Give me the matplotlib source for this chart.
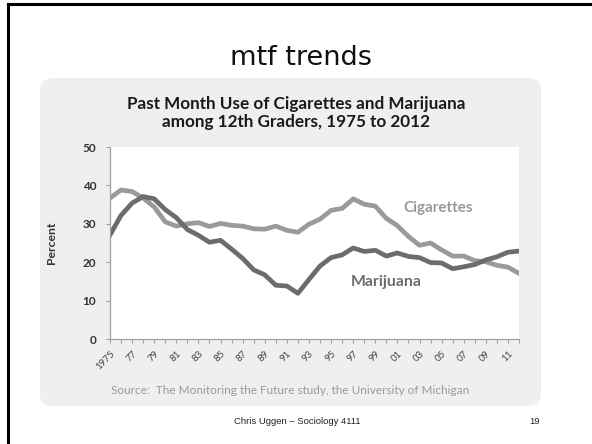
import matplotlib
matplotlib.use("Agg")
import matplotlib.pyplot as plt
from matplotlib.patches import FancyBboxPatch
from matplotlib.lines import Line2D
from matplotlib.ticker import MultipleLocator

# MTF 12th graders, past-month use (%), 1975-2012
years = list(range(1975, 2013))
cigarettes = [36.7, 38.8, 38.4, 36.7, 34.4, 30.5, 29.4, 30.0, 30.3, 29.3,
              30.1, 29.6, 29.4, 28.7, 28.6, 29.4, 28.3, 27.8, 29.9, 31.2,
              33.5, 34.0, 36.5, 35.1, 34.6, 31.4, 29.5, 26.7, 24.4, 25.0,
              23.2, 21.6, 21.6, 20.4, 20.1, 19.2, 18.7, 17.1]
marijuana = [27.1, 32.2, 35.4, 37.1, 36.5, 33.7, 31.6, 28.5, 27.0, 25.2,
             25.7, 23.4, 21.0, 18.0, 16.7, 14.0, 13.8, 11.9, 15.5, 19.0,
             21.2, 21.9, 23.7, 22.8, 23.1, 21.6, 22.4, 21.5, 21.2, 19.9,
             19.8, 18.3, 18.8, 19.4, 20.6, 21.4, 22.6, 22.9]
tick_years = list(range(1975, 2012, 2))
tick_labels = ["1975"] + [f"{y % 100:02d}" for y in tick_years[1:]]
y_ticks = [0, 10, 20, 30, 40, 50]

CIG, MJ = "#9a9a9a", "#6c6c6c"
W, H = 592, 444
fig = plt.figure(figsize=(W / 100, H / 100), dpi=100)
fig.patch.set_facecolor("white")

# slide frame (top and left edges only visible)
fig.add_artist(Line2D([8 / W, 1], [1 - 4.5 / H] * 2, color="black", lw=2.2))
fig.add_artist(Line2D([8 / W] * 2, [0, 1 - 4.5 / H], color="black", lw=2.2))

# grey chart panel
fig.add_artist(FancyBboxPatch((40 / W, 1 - 406 / H), (541 - 40) / W, (406 - 78) / H,
                              boxstyle="round,pad=0,rounding_size=0.025",
                              transform=fig.transFigure, facecolor="#efefef",
                              edgecolor="none", zorder=0))

fig.text(301 / W, 1 - 58 / H, "mtf trends", ha="center", va="center",
         fontsize=19.5, family="DejaVu Sans", color="#111111")
fig.text(296 / W, 1 - 113 / H,
         "Past Month Use of Cigarettes and Marijuana\namong 12th Graders, 1975 to 2012",
         ha="center", va="center", fontsize=12.3, family="Lato", weight="bold",
         color="#1a1a1a", linespacing=1.12)
fig.text(290 / W, 1 - 390 / H,
         "Source:  The Monitoring the Future study, the University of Michigan",
         ha="center", va="center", fontsize=8.5, family="Lato", color="#9a9a9a")
fig.text(297 / W, 1 - 421 / H, "Chris Uggen \u2013 Sociology 4111", ha="center",
         va="center", fontsize=6.8, family="Liberation Sans", color="#222222")
fig.text(535 / W, 1 - 421 / H, "19", ha="center", va="center", fontsize=6.8,
         family="Liberation Sans", color="#222222")

ax = fig.add_axes([110 / W, 1 - 339 / H, (519 - 110) / W, (339 - 147) / H])
ax.set_facecolor("white")
ax.plot(years, cigarettes, color=CIG, lw=3.4, solid_joinstyle="round")
ax.plot(years, marijuana, color=MJ, lw=3.4, solid_joinstyle="round")
ax.set_xlim(1975, 2012)
ax.set_ylim(0, 50)

for s in ("top", "right"):
    ax.spines[s].set_visible(False)
for s in ("left", "bottom"):
    ax.spines[s].set_color("#a0a0a0")
    ax.spines[s].set_linewidth(0.9)

ax.set_yticks(y_ticks)
ax.set_yticklabels([str(v) for v in y_ticks], family="Lato", weight="bold",
                   fontsize=8.5, color="#333333")
ax.set_xticks(tick_years)
ax.set_xticklabels(tick_labels, rotation=45, ha="right", rotation_mode="anchor",
                   family="Lato", fontsize=7, color="#444444")
ax.xaxis.set_minor_locator(MultipleLocator(1))
ax.tick_params(axis="both", which="both", direction="out", color="#a0a0a0",
               length=3, width=0.8)
ax.tick_params(axis="y", pad=7)
ax.tick_params(axis="x", pad=4)

ax.set_ylabel("Percent", family="Lato", weight="bold", fontsize=8.8, color="#333333")
ax.yaxis.set_label_coords((57 - 110) / (519 - 110), 0.5)

ax.text(2004.7, 34.1, "Cigarettes", ha="center", va="center", fontsize=11,
        family="Lato", weight="bold", color=CIG)
ax.text(2000.0, 14.8, "Marijuana", ha="center", va="center", fontsize=11.3,
        family="Lato", weight="bold", color=MJ)

fig.savefig("out.png", dpi=100)
